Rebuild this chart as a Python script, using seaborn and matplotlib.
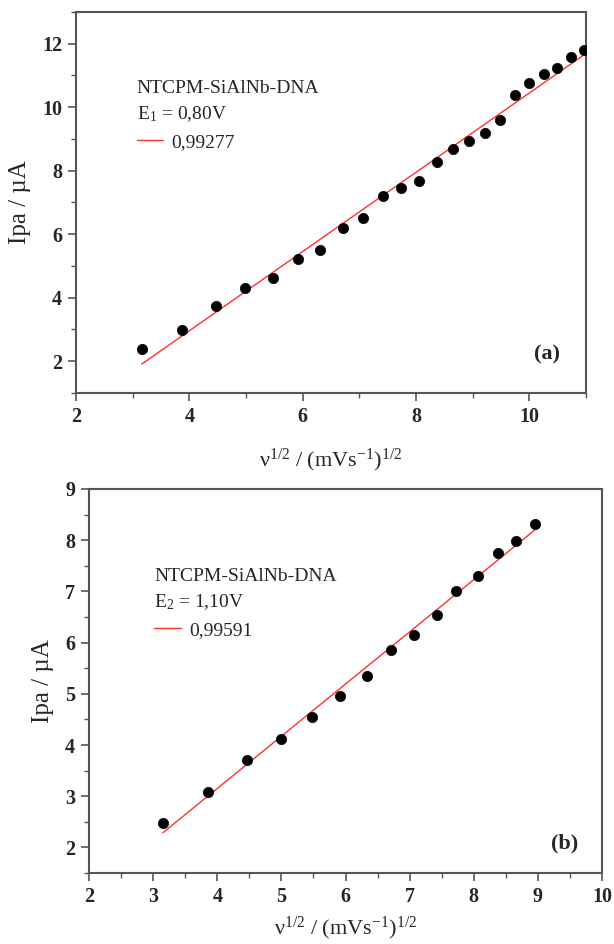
import numpy as np
import pandas as pd
import matplotlib
matplotlib.use("Agg")
import matplotlib.pyplot as plt
from matplotlib.ticker import MultipleLocator
from matplotlib.lines import Line2D
import seaborn as sns

# ---- data ----
# panel (a)
xa = [3.16, 3.87, 4.47, 4.99, 5.47, 5.91, 6.31, 6.71, 7.06, 7.41, 7.74, 8.05,
      8.37, 8.66, 8.94, 9.21, 9.48, 9.75, 10.00, 10.25, 10.49, 10.73, 10.96]
ya = [2.40, 2.98, 3.74, 4.31, 4.63, 5.21, 5.49, 6.20, 6.51, 7.20, 7.46, 7.68,
      8.29, 8.70, 8.95, 9.20, 9.61, 10.39, 10.76, 11.06, 11.24, 11.59, 11.79]
# panel (b)
xb = [3.15, 3.86, 4.47, 5.00, 5.48, 5.91, 6.33, 6.71, 7.06, 7.42, 7.73, 8.06,
      8.37, 8.66, 8.95]
yb = [2.47, 3.09, 3.71, 4.11, 4.55, 4.96, 5.34, 5.86, 6.15, 6.54, 7.01, 7.31,
      7.75, 7.99, 8.32]

legend_title_a = "NTCPM-SiAlNb-DNA\nE$_1$ = 0,80V"
legend_title_b = "NTCPM-SiAlNb-DNA\nE$_2$ = 1,10V"
fit_label_a = "0,99277"
fit_label_b = "0,99591"
panel_a = "(a)"
panel_b = "(b)"
xlabel = "ν$^{1/2}$ / (mVs$^{-1}$)$^{1/2}$"
ylabel = "Ipa / µA"

sns.set_style("ticks")
plt.rcParams["font.family"] = ["Liberation Serif", "DejaVu Serif"]
plt.rcParams["mathtext.fontset"] = "custom"
plt.rcParams["mathtext.rm"] = "Liberation Serif"
plt.rcParams["mathtext.it"] = "Liberation Serif:italic"
plt.rcParams["mathtext.bf"] = "Liberation Serif:bold"
plt.rcParams["mathtext.default"] = "regular"

fig = plt.figure(figsize=(6.14, 9.44), dpi=100)
axA = fig.add_axes([0.1238, 0.5837, 0.8306, 0.4036])
axB = fig.add_axes([0.1450, 0.0752, 0.8355, 0.4068])

frame_col = "#555555"
red = "#ff3030"

def draw(ax, x, y, xlim, ylim, xmaj, xmin, ymaj, ymin, title, fitlab, tag,
         tagpos, legpos, xpad):
    df = pd.DataFrame({"x": x, "y": y})
    sns.regplot(data=df, x="x", y="y", ax=ax, ci=None, scatter=False,
                line_kws=dict(color=red, lw=1.0))
    sns.scatterplot(data=df, x="x", y="y", ax=ax, color="black", s=55,
                    edgecolor="black", linewidth=0.5, zorder=3)
    ax.set_xlim(*xlim)
    ax.set_ylim(*ylim)
    ax.xaxis.set_major_locator(MultipleLocator(xmaj))
    ax.xaxis.set_minor_locator(MultipleLocator(xmin))
    ax.yaxis.set_major_locator(MultipleLocator(ymaj))
    ax.yaxis.set_minor_locator(MultipleLocator(ymin))
    for s in ax.spines.values():
        s.set_visible(True)
        s.set_color(frame_col)
        s.set_linewidth(1.5)
    ax.tick_params(which="major", direction="out", length=6, width=1.2,
                   color=frame_col, labelsize=14.5, pad=4)
    ax.tick_params(which="minor", direction="out", length=3.5, width=1.0,
                   color=frame_col)
    for lab in ax.get_xticklabels() + ax.get_yticklabels():
        lab.set_fontweight("bold")
    ax.set_xlabel(xlabel, fontsize=16, labelpad=xpad)
    ax.set_ylabel(ylabel, fontsize=18, labelpad=8)
    h = Line2D([], [], color=red, lw=1.0)
    leg = ax.legend([h], [fitlab], title=title, loc="upper left",
                    bbox_to_anchor=legpos, bbox_transform=ax.transData,
                    frameon=False, fontsize=14, title_fontsize=14,
                    handlelength=1.35, handletextpad=0.45, borderpad=0,
                    borderaxespad=0, alignment="left")
    leg.get_title().set_linespacing(1.45)
    ax.text(tagpos[0], tagpos[1], tag, fontsize=16, fontweight="bold",
            ha="center", va="center")

draw(axA, xa, ya, (2, 11), (1, 13), 2, 1, 2, 1,
     legend_title_a, fit_label_a, panel_a, (10.32, 2.2), (3.07, 10.85), 14)
draw(axB, xb, yb, (2, 10), (1.5, 9), 1, 0.5, 1, 0.5,
     legend_title_b, fit_label_b, panel_b, (9.41, 2.08), (3.02, 7.45), 6)

fig.savefig("out.png", dpi=100)
